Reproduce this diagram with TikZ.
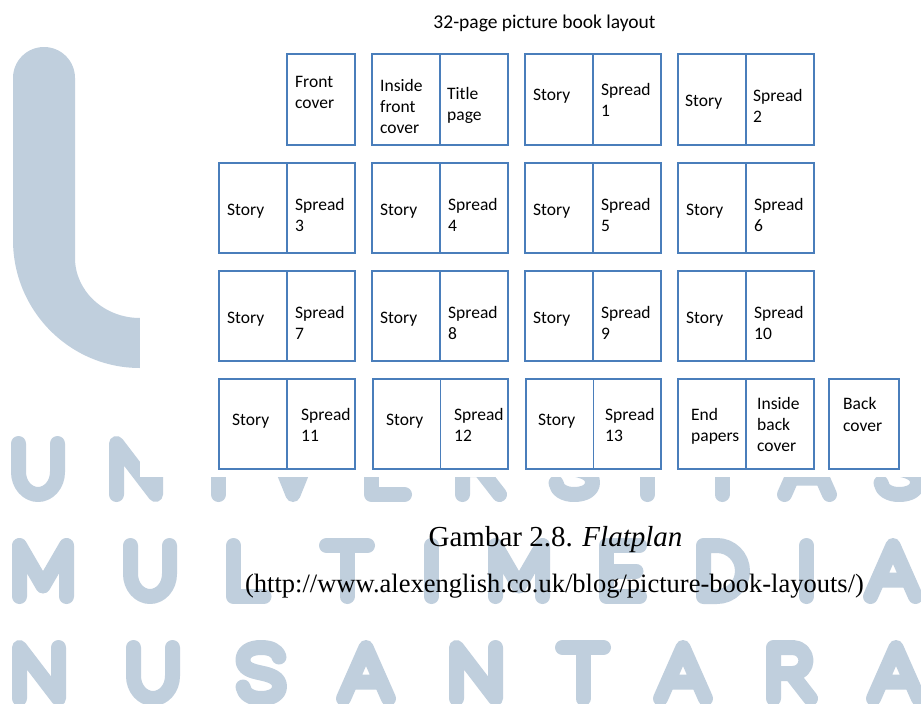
\documentclass[tikz,border=0pt]{standalone}
\usepackage{fontspec}
\setmainfont{Carlito}
\newfontfamily\capfont{Liberation Serif}
\usetikzlibrary{calc}
\definecolor{boxblue}{RGB}{74,126,187}
\definecolor{wm}{RGB}{192,207,221}
\tikzset{
  wmstroke/.style={draw=wm, line width=15pt, line cap=round, line join=round},
}
\newcommand\wmU[2]{\draw[wmstroke,shift={(#1,#2)}] (7.5,7.5) -- (7.5,36) arc[start angle=180,end angle=0,x radius=19.5,y radius=22.5] -- (46.5,7.5);}
\newcommand\wmN[2]{\draw[wmstroke,shift={(#1,#2)}] (7.5,58.5) -- (7.5,7.5) -- (46.5,58.5) -- (46.5,7.5);}
\newcommand\wmI[2]{\draw[wmstroke,shift={(#1,#2)}] (7.5,7.5) -- (7.5,58.5);}
\newcommand\wmV[2]{\draw[wmstroke,shift={(#1,#2)}] (7.5,7.5) -- (28,58.5) -- (48.5,7.5);}
\newcommand\wmE[2]{\draw[wmstroke,shift={(#1,#2)}] (40.5,7.5) -- (7.5,7.5) -- (7.5,58.5) -- (40.5,58.5) (7.5,33) -- (37,33);}
\newcommand\wmR[2]{\draw[wmstroke,shift={(#1,#2)}] (7.5,58.5) -- (7.5,7.5) -- (27,7.5) arc[start angle=270,end angle=450,radius=13] -- (7.5,33.5) (25,33.5) -- (44.5,58.5);}
\newcommand\wmS[2]{\draw[wmstroke,shift={(#1,#2)}] (44,17) .. controls (42,10) and (35,7.5) .. (26,7.5) .. controls (15,7.5) and (8,12) .. (8,20) .. controls (8,29) and (17,31) .. (26,33) .. controls (36,35) and (44.5,38) .. (44.5,46.5) .. controls (44.5,54) and (37,58.5) .. (26,58.5) .. controls (16,58.5) and (9,54) .. (8,47);}
\newcommand\wmT[2]{\draw[wmstroke,shift={(#1,#2)}] (7.5,7.5) -- (48.5,7.5) (28,7.5) -- (28,58.5);}
\newcommand\wmA[2]{\draw[wmstroke,shift={(#1,#2)}] (7.5,58.5) -- (30,7.5) -- (52.5,58.5) (16.5,42) -- (43.5,42);}
\newcommand\wmM[2]{\draw[wmstroke,shift={(#1,#2)}] (7.5,58.5) -- (7.5,7.5) -- (31,48) -- (54.5,7.5) -- (54.5,58.5);}
\newcommand\wmL[2]{\draw[wmstroke,shift={(#1,#2)}] (7.5,7.5) -- (7.5,58.5) -- (38,58.5);}
\newcommand\wmD[2]{\draw[wmstroke,shift={(#1,#2)}] (7.5,7.5) -- (7.5,58.5) -- (21,58.5) arc[start angle=90,end angle=-90,radius=25.5] -- cycle;}
\begin{document}
\begin{tikzpicture}[x=1pt,y=-1pt,
  pagebox/.style={draw=boxblue, line width=2.8pt, fill=white, rectangle, inner sep=0pt, outer sep=0pt, anchor=north west},
  divline/.style={draw=boxblue, line width=1.1pt},
  lbl/.style={font=\fontsize{17.5}{21}\selectfont, inner sep=0pt, anchor=base west, text=black},
  captext/.style={font=\capfont\fontsize{29}{34}\selectfont, inner sep=0pt, anchor=base, text=black},
]
\useasboundingbox (0,0) rectangle (921,704);
\fill[white] (0,0) rectangle (921,704);
% watermark
\fill[wm] (13,78) arc[start angle=180,end angle=360,radius=31] -- (75,258) arc[start angle=180,end angle=90,x radius=65,y radius=60] -- (140,368) arc[start angle=90,end angle=180,x radius=127,y radius=128] -- cycle;
\wmU{11}{436}\wmN{109}{436}\wmI{211}{436}\wmV{265}{436}\wmE{364}{436}\wmR{455}{436}\wmS{548}{436}\wmI{640}{436}\wmT{694}{436}\wmA{777}{436}\wmS{873}{436}
\wmM{12}{538}\wmU{123}{538}\wmL{226}{538}\wmT{319}{538}\wmI{424}{538}\wmM{488}{538}\wmE{599}{538}\wmD{696}{538}\wmI{799}{538}\wmA{863}{538}
\wmN{12}{640}\wmU{126}{640}\wmS{235}{640}\wmA{336}{640}\wmN{449}{640}\wmT{555}{640}\wmA{653}{640}\wmR{766}{640}\wmA{866}{640}
% diagram area
\fill[white] (140,0) rectangle (921,477);
\node[font=\fontsize{19.5}{23}\selectfont, inner sep=0pt, anchor=base] (title) at (544.5,28) {32-page picture book layout};
% row 1
\node[pagebox, minimum width=68pt, minimum height=91pt] (fc) at (287,54) {};
\node[pagebox, minimum width=136pt, minimum height=91pt] (ifc) at (372,54) {};
\node[pagebox, minimum width=136pt, minimum height=91pt] (s1) at (525,54) {};
\node[pagebox, minimum width=136pt, minimum height=91pt] (s2) at (678,54) {};
% row 2
\node[pagebox, minimum width=136pt, minimum height=90pt] (s3) at (219,163) {};
\node[pagebox, minimum width=136pt, minimum height=90pt] (s4) at (372,163) {};
\node[pagebox, minimum width=136pt, minimum height=90pt] (s5) at (525,163) {};
\node[pagebox, minimum width=136pt, minimum height=90pt] (s6) at (678,163) {};
% row 3
\node[pagebox, minimum width=136pt, minimum height=90pt] (s7) at (219,271) {};
\node[pagebox, minimum width=136pt, minimum height=90pt] (s8) at (372,271) {};
\node[pagebox, minimum width=136pt, minimum height=90pt] (s9) at (525,271) {};
\node[pagebox, minimum width=136pt, minimum height=90pt] (s10) at (678,271) {};
% row 4
\node[pagebox, minimum width=136pt, minimum height=90pt] (s11) at (219,379) {};
\node[pagebox, minimum width=135pt, minimum height=90pt] (s12) at (373,379) {};
\node[pagebox, minimum width=135pt, minimum height=90pt] (s13) at (526,379) {};
\node[pagebox, minimum width=136pt, minimum height=90pt] (ep) at (678,379) {};
\node[pagebox, minimum width=70pt, minimum height=90pt] (bc) at (829,379) {};
% dividers
\foreach \b in {ifc,s1,s2,s3,s4,s5,s6,s7,s8,s9,s10,s11,s12,s13,ep}
  \draw[divline] (\b.north) -- (\b.south);
% row 1 labels
\node[lbl] (fc1) at (295,87) {Front};
\node[lbl] (fc2) at (295,108) {cover};
\node[lbl] (ifc1) at (380,91) {Inside};
\node[lbl] (ifc2) at (380,112) {front};
\node[lbl] (ifc3) at (380,133) {cover};
\node[lbl] (tp1) at (447,99) {Title};
\node[lbl] (tp2) at (447,120) {page};
\node[lbl] (st1) at (533,100) {Story};
\node[lbl] (sp1a) at (601,95) {Spread};
\node[lbl] (sp1b) at (601,116) {1};
\node[lbl] (st2) at (685,106) {Story};
\node[lbl] (sp2a) at (753,101) {Spread};
\node[lbl] (sp2b) at (753,122) {2};
% rows 2 and 3
\foreach \x/\n in {219/3,372/4,525/5,678/6}{
  \node[lbl] (st\n) at (\x+8,215) {Story};
  \node[lbl] (sp\n a) at (\x+76,210) {Spread};
  \node[lbl] (sp\n b) at (\x+76,231) {\n};
}
\foreach \x/\n in {219/7,372/8,525/9,678/10}{
  \node[lbl] (st\n) at (\x+8,323) {Story};
  \node[lbl] (sp\n a) at (\x+76,318) {Spread};
  \node[lbl] (sp\n b) at (\x+76,339) {\n};
}
% row 4
\node[lbl] (st11) at (232,425) {Story};
\node[lbl] (sp11a) at (301,420) {Spread};
\node[lbl] (sp11b) at (301,441) {11};
\node[lbl] (st12) at (386,425) {Story};
\node[lbl] (sp12a) at (454,420) {Spread};
\node[lbl] (sp12b) at (454,441) {12};
\node[lbl] (st13) at (538,425) {Story};
\node[lbl] (sp13a) at (605,420) {Spread};
\node[lbl] (sp13b) at (605,441) {13};
\node[lbl] (ep1) at (691,420) {End};
\node[lbl] (ep2) at (691,441) {papers};
\node[lbl] (ib1) at (757,409) {Inside};
\node[lbl] (ib2) at (757,430) {back};
\node[lbl] (ib3) at (757,451) {cover};
\node[lbl] (bc1) at (843,409) {Back};
\node[lbl] (bc2) at (843,431) {cover};
% caption
\node[captext] (caption) at (555.5,546) {Gambar 2.8. \textit{Flatplan}};
\node[captext, font=\capfont\fontsize{26.5}{30}\selectfont] (url) at (554.5,592) {(http://www.alexenglish.co.uk/blog/picture-book-layouts/)};
\end{tikzpicture}
\end{document}
